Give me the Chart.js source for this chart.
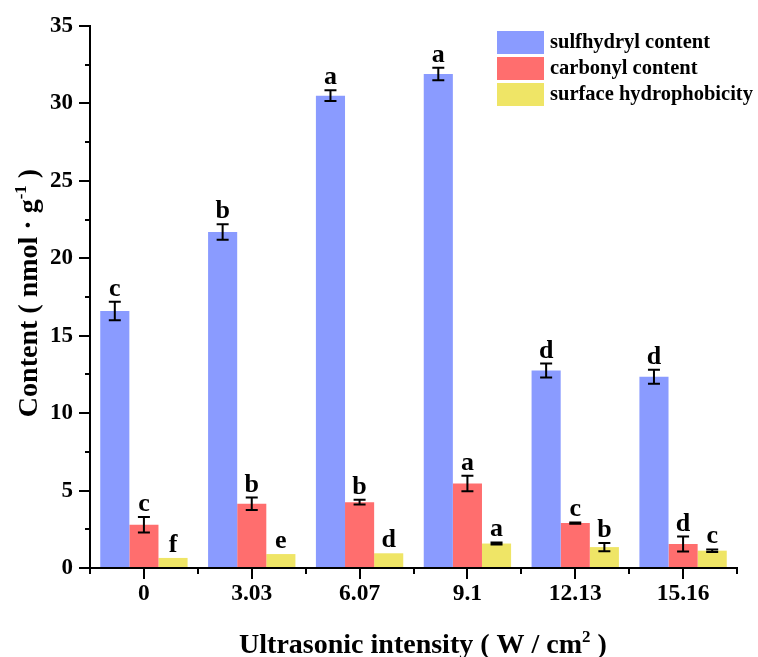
<!DOCTYPE html>
<html>
<head>
<meta charset="utf-8">
<script src="https://cdn.jsdelivr.net/npm/chart.js@4.4.1/dist/chart.umd.min.js"></script>
<style>
  html, body { margin: 0; padding: 0; background: #fff; }
  #wrap { width: 758px; height: 657px; position: relative; }
</style>
</head>
<body>
<div id="wrap"><canvas id="c" width="758" height="657"></canvas></div>
<script>
// ---- data ----
const categories = ['0', '3.03', '6.07', '9.1', '12.13', '15.16'];
const seriesNames = ['sulfhydryl content', 'carbonyl content', 'surface hydrophobicity'];
const sulfhydryl = [16.6, 21.7, 30.5, 31.9, 12.75, 12.35];
const sulfhydrylErr = [0.6, 0.5, 0.35, 0.4, 0.45, 0.45];
const sulfhydrylLetters = ['c', 'b', 'a', 'a', 'd', 'd'];
const carbonyl = [2.8, 4.15, 4.25, 5.45, 2.9, 1.55];
const carbonylErr = [0.5, 0.4, 0.15, 0.5, 0.04, 0.48];
const carbonylLetters = ['c', 'b', 'b', 'a', 'c', 'd'];
const hydrophobicity = [0.65, 0.9, 0.95, 1.58, 1.35, 1.12];
const hydrophobicityErr = [0, 0, 0, 0.07, 0.27, 0.08];
const hydrophobicityLetters = ['f', 'e', 'd', 'a', 'b', 'c'];
const yMin = 0, yMax = 35, yMajorStep = 5, yMinorStep = 2.5;

const errs = [sulfhydrylErr, carbonylErr, hydrophobicityErr];
const letters = [sulfhydrylLetters, carbonylLetters, hydrophobicityLetters];
const colors = ['#8a9bff', '#ff6e6e', '#efe566'];
const FONT = "'Liberation Serif', 'Times New Roman', serif";

const overlay = {
  id: 'overlay',
  afterDatasetsDraw(chart) {
    const ctx = chart.ctx;
    const y = chart.scales.y;
    ctx.save();
    chart.data.datasets.forEach((ds, di) => {
      const meta = chart.getDatasetMeta(di);
      meta.data.forEach((bar, i) => {
        const v = ds.data[i], e = errs[di][i];
        const x = bar.x;
        const top = y.getPixelForValue(v + e);
        const bot = y.getPixelForValue(v - e);
        if (e > 0) {
          ctx.strokeStyle = '#000';
          ctx.lineWidth = 2;
          ctx.beginPath();
          ctx.moveTo(x, top); ctx.lineTo(x, bot);
          ctx.moveTo(x - 6, top); ctx.lineTo(x + 6, top);
          ctx.moveTo(x - 6, bot); ctx.lineTo(x + 6, bot);
          ctx.stroke();
        }
        ctx.fillStyle = '#000';
        ctx.font = 'bold 26px ' + FONT;
        ctx.textAlign = 'center';
        ctx.textBaseline = 'alphabetic';
        ctx.fillText(letters[di][i], x, Math.min(top, y.getPixelForValue(v)) - 6);
      });
    });
    ctx.restore();
  },
  afterDraw(chart) {
    const ctx = chart.ctx;
    const ca = chart.chartArea;
    const y = chart.scales.y;
    ctx.save();
    // minor ticks
    ctx.strokeStyle = '#000';
    ctx.lineWidth = 2;
    ctx.beginPath();
    for (let v = yMin + yMinorStep; v < yMax; v += 2 * yMinorStep) {
      const py = Math.round(y.getPixelForValue(v));
      ctx.moveTo(ca.left - 5, py); ctx.lineTo(ca.left, py);
    }
    const n = categories.length;
    for (let i = 0; i <= n; i++) {
      const px = Math.round(ca.left + (ca.right - ca.left) * i / n);
      ctx.moveTo(px, ca.bottom); ctx.lineTo(px, ca.bottom + 6);
    }
    ctx.stroke();

    // legend
    ctx.font = 'bold 20.5px ' + FONT;
    ctx.textAlign = 'left';
    ctx.textBaseline = 'middle';
    seriesNames.forEach((name, i) => {
      const ty = 31 + i * 26;
      ctx.fillStyle = colors[i];
      ctx.fillRect(497, ty, 47, 23);
      ctx.fillStyle = '#000';
      ctx.fillText(name, 550, ty + 12);
    });

    // titles with superscripts
    function drawRich(parts, cx, cy, rot) {
      ctx.save();
      ctx.translate(cx, cy);
      ctx.rotate(rot);
      ctx.textBaseline = 'alphabetic';
      ctx.textAlign = 'left';
      let w = 0;
      parts.forEach(p => { ctx.font = 'bold ' + p.size + 'px ' + FONT; w += ctx.measureText(p.t).width; });
      let px = -w / 2;
      parts.forEach(p => {
        ctx.font = 'bold ' + p.size + 'px ' + FONT;
        ctx.fillStyle = '#000';
        ctx.fillText(p.t, px, -(p.rise || 0));
        px += ctx.measureText(p.t).width;
      });
      ctx.restore();
    }
    drawRich([
      { t: 'Ultrasonic intensity ( W / cm', size: 28 },
      { t: '2', size: 17, rise: 11 },
      { t: ' )', size: 28 }
    ], 423, 653, 0);
    drawRich([
      { t: 'Content ( nmol \u00b7 g', size: 28 },
      { t: '-1', size: 17, rise: 11 },
      { t: ' )', size: 28 }
    ], 37, 293, -Math.PI / 2);
    ctx.restore();
  }
};

new Chart(document.getElementById('c'), {
  type: 'bar',
  data: {
    labels: categories,
    datasets: [
      { label: seriesNames[0], data: sulfhydryl, backgroundColor: colors[0] },
      { label: seriesNames[1], data: carbonyl, backgroundColor: colors[1] },
      { label: seriesNames[2], data: hydrophobicity, backgroundColor: colors[2] }
    ]
  },
  options: {
    responsive: false,
    animation: false,
    devicePixelRatio: 1,
    layout: { padding: { left: 0, right: 21, top: 26, bottom: 0 } },
    datasets: { bar: { categoryPercentage: 0.81, barPercentage: 1.0 } },
    plugins: { legend: { display: false }, tooltip: { enabled: false } },
    scales: {
      x: {
        type: 'category',
        offset: true,
        grid: { display: true, drawOnChartArea: false, offset: false, drawTicks: true, tickLength: 11, color: '#000', lineWidth: 2 },
        border: { display: true, color: '#000', width: 2 },
        ticks: { color: '#000', padding: 1, maxRotation: 0, font: { family: FONT, size: 23.5, weight: 'bold' } },
        afterFit(s) { s.height = 89; s.paddingLeft = 0; s.paddingRight = 0; }
      },
      y: {
        min: yMin, max: yMax,
        ticks: {
          stepSize: yMinorStep,
          color: '#000', padding: 6,
          font: { family: FONT, size: 23, weight: 'bold' },
          callback: v => (v % yMajorStep === 0 ? v : '')
        },
        grid: {
          display: true, drawOnChartArea: false, drawTicks: true, tickLength: 11, lineWidth: 2,
          color: c => (c.tick && c.tick.value % yMajorStep === 0 ? '#000' : 'rgba(0,0,0,0)')
        },
        border: { display: true, color: '#000', width: 2 },
        afterFit(s) { s.width = 90; s.paddingTop = 0; s.paddingBottom = 0; }
      }
    }
  },
  plugins: [overlay]
});
</script>
</body>
</html>
